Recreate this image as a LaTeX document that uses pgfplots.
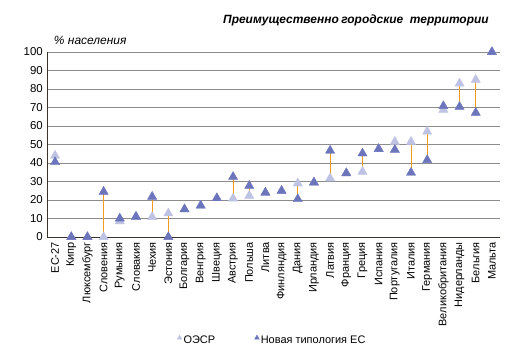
\documentclass[border=0pt]{standalone}
\usepackage{pgfplots}
\pgfplotsset{compat=1.18}
\usepackage{pgfplotstable}
\usepackage{fontspec}
\setmainfont{Liberation Sans}
\definecolor{darkT}{HTML}{6C75BC}
\definecolor{lightT}{HTML}{BFC3E3}
\definecolor{hilo}{HTML}{F39A1E}
\definecolor{gridc}{HTML}{8C8C8C}
\pgfplotstableread{
x oecd eu
0 44 40.5
1 0 0
2 0 0
3 0 24.5
4 8.5 10
5 11 11
6 10.8 21.8
7 12.8 0
8 15 15
9 17 17
10 21 21
11 20.8 32.5
12 22.3 27.7
13 24 24
14 25 25
15 29 20.5
16 29.5 29.5
17 31.7 46.7
18 34.5 34.5
19 35.3 45.2
20 47.6 47.6
21 51.5 47.2
22 51.5 34.8
23 57 41.6
24 68.8 70.8
25 83 70.4
26 85 67.2
27 100 100
}\datatable
\begin{document}
\begin{tikzpicture}
\begin{axis}[
  at={(0,0)}, anchor=south west,
  scale only axis, width=453bp, height=185bp,
  xmin=-0.5, xmax=27.5, ymin=0, ymax=100,
  clip=false,
  axis lines*=left,
  axis line style={draw=black!80!olive, line width=0.8pt},
  ytick={0,10,...,100},
  ymajorgrids, grid style={gridc, line width=0.6pt},
  major tick length=0pt,
  xtick={0,...,27},
  xticklabels={ЕС-27,Кипр,Люксембург,Словения,Румыния,Словакия,Чехия,Эстония,Болгария,Венгрия,Швеция,Австрия,Польша,Литва,Финляндия,Дания,Ирландия,Латвия,Франция,Греция,Испания,Португалия,Италия,Германия,Великобритания,Нидерланды,Бельгия,Мальта},
  x tick label style={rotate=90, anchor=east, font=\fontsize{11}{13}\selectfont, inner xsep=5bp, inner ysep=0pt},
  y tick label style={font=\fontsize{11.5}{13}\selectfont, inner xsep=4bp},
  /pgf/number format/assume math mode=true,
  legend style={at={(0.497,-0.557)}, anchor=center, draw=none, fill=none,
    font=\fontsize{11}{13}\selectfont, legend columns=2,
    /tikz/every even column/.append style={column sep=38bp},
    inner sep=0pt, nodes={inner xsep=1.5bp}},
  legend image code/.code={\draw[#1, mark size=2.7bp] plot coordinates {(0.06cm,0.08cm)};},
]
\addplot[draw=none, forget plot, error bars/.cd, y dir=plus, y explicit,
  error mark=none, error bar style={hilo, line width=1pt}]
  table[x=x, y expr={min(\thisrow{oecd},\thisrow{eu})}, y error expr={abs(\thisrow{oecd}-\thisrow{eu})}] {\datatable};
\addplot[only marks, mark=triangle*, mark size=5.3bp, mark options={fill=lightT, draw=lightT}] table[x=x, y=oecd] {\datatable};
\addlegendentry{ОЭСР}
\addplot[only marks, mark=triangle*, mark size=5.3bp, mark options={fill=darkT, draw=darkT}] table[x=x, y=eu] {\datatable};
\addlegendentry{Новая типология ЕС}
\node[anchor=center, font=\fontsize{12}{14}\selectfont\bfseries\itshape] at (rel axis cs:0.682,1.173) {Преимущественно\hspace{2.5bp}городские\ \ территории};
\node[anchor=west, font=\fontsize{12}{14}\selectfont\itshape, inner sep=0pt] at (rel axis cs:0.015,1.065) {\% населения};
\end{axis}
\useasboundingbox (-47bp,-122bp) rectangle (470bp,237bp);
\end{tikzpicture}
\end{document}
